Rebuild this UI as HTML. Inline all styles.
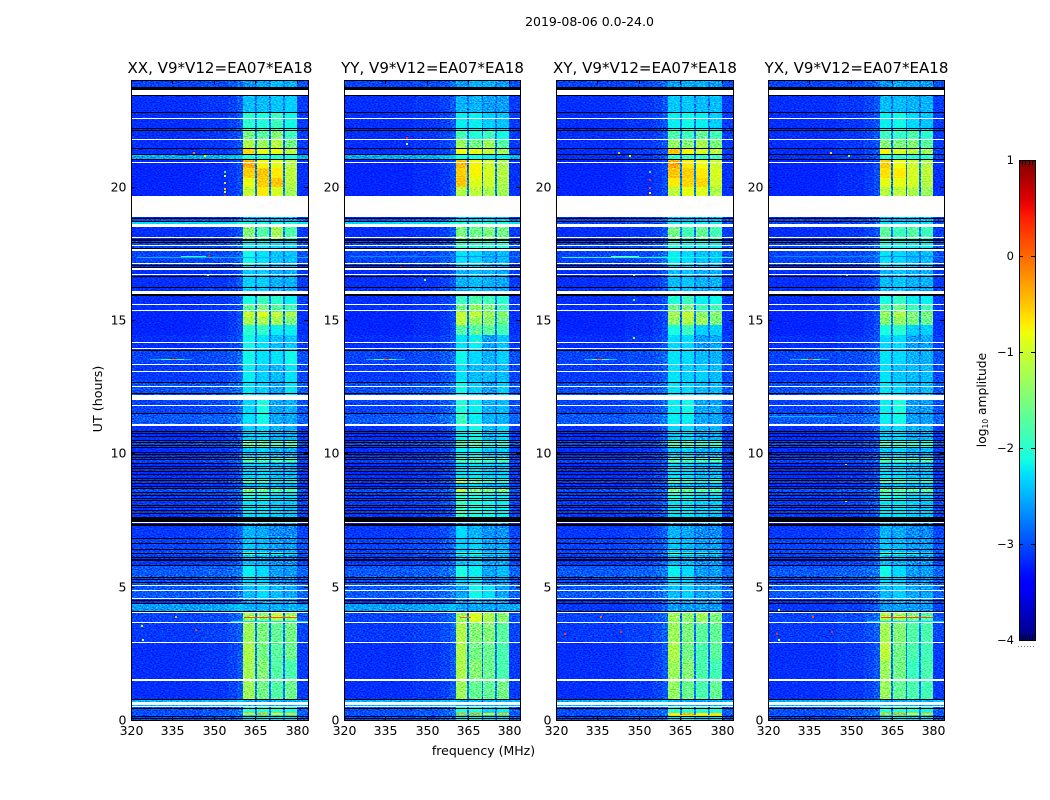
<!DOCTYPE html>
<html lang="en">
<head>
<meta charset="utf-8">
<title>2019-08-06 0.0-24.0</title>
<style>
html,body{margin:0;padding:0;background:#fff;width:1050px;height:800px;overflow:hidden}
svg{display:block}
text{font-family:"DejaVu Sans","Liberation Sans",sans-serif;fill:#000}
</style>
</head>
<body>
<svg id="figure" xmlns="http://www.w3.org/2000/svg" width="1050" height="800" viewBox="0 0 1050 800">
  <defs>
    <!-- Purely visual receiver-grain texture; it carries no chart values. -->
    <filter id="grain" x="0" y="0" width="100%" height="100%" color-interpolation-filters="sRGB">
      <feTurbulence type="fractalNoise" baseFrequency="0.55 0.85" numOctaves="1" seed="7"/>
      <feColorMatrix type="matrix" values="2.2 0 0 0 -0.6  2.2 0 0 0 -0.6  2.2 0 0 0 -0.6  0 0 0 0 1"/>
    </filter>
  </defs>
  <text x="589.5" y="26" font-size="12.5" text-anchor="middle">2019-08-06 0.0-24.0</text>
  <text x="483.5" y="755" font-size="12.5" text-anchor="middle">frequency (MHz)</text>
  <text x="102" y="399" font-size="12.7" text-anchor="middle" transform="rotate(-90 102 399)">UT (hours)</text>
  <text x="986" y="400" font-size="12.3" text-anchor="middle" transform="rotate(-90 986 400)">log<tspan font-size="7.5" dy="2">10</tspan><tspan dy="-2"> amplitude</tspan></text>
  <g id="panels"></g>
  <g id="colorbar"></g>
</svg>
<script>
/* ---------- axis data ---------- */
const panelTitles = ['XX, V9*V12=EA07*EA18','YY, V9*V12=EA07*EA18','XY, V9*V12=EA07*EA18','YX, V9*V12=EA07*EA18'];
const freqTicks = [320,335,350,365,380];
const timeTicks = [0,5,10,15,20];
const colorTicks = [-4,-3,-2,-1,0,1];

/* channel groups in MHz: -1 background, -2 gap between sub-bands, 0..3 sub-band index */
const channelEdges = [320,345,355,358.5,360.6,364.8,365.4,370,370.6,375,375.7,379.9,384];
const channelBand = [-1,-1,-1,-1,0,-2,1,-2,2,-2,3,-1];
const channelOffsets = [0,0.04,0.1,0.2,0,0,0,0,0,0,0,0.06];
const gapLevel = -2.8;

/* time row edges in UT hours, top to bottom */
const timeEdges = [24,23.7,23.44,22.8,22.12,21.75,21.45,21.22,21.05,20.7,20.33,20,19.65,18.84,18.71,18.6,18.49,18,17.63,17.06,15.94,15.6,15.3,15.11,14.81,14.44,13.87,13.35,12.71,12,11.51,11.03,10.46,10.24,9.83,9.68,9.08,8.89,8.7,8.51,8.25,7.61,7.28,6.83,6.3,6.19,5.81,5.36,5.06,4.58,4.35,4.09,3.68,2.93,2.25,1.5,0.75,0.49,0.26,0.19,0];

/* background log10 amplitude per time row */
const bgParallel = [-3.05,-3.1,-3.15,-3.15,-3.15,-3.15,-3.15,-2.55,-3.2,-3.2,-3.2,-3.2,-3.2,-3,-2.3,-2.3,-3.15,-3.05,-3.05,-3.15,-3.15,-3.15,-3.2,-3.2,-3.2,-3.15,-3.05,-3.1,-3,-3.05,-2.95,-3.15,-3.05,-3.15,-3.05,-3.15,-3.1,-3.15,-3,-3.1,-3.1,-3.3,-3.1,-3.05,-3,-3.1,-2.95,-3,-2.95,-3.15,-2.6,-3.05,-3.1,-3.15,-3.15,-3.15,-2.5,-3,-3,-3];
const bgCross = [-3.05,-3.1,-3.15,-3.15,-3.15,-3.15,-3.15,-3.15,-3.2,-3.2,-3.2,-3.2,-3.2,-3.05,-3.05,-2.6,-3.15,-3.05,-3.05,-3.15,-3.15,-3.15,-3.2,-3.2,-3.2,-3.15,-3.05,-3.1,-3,-3.05,-2.95,-3.15,-3.05,-3.15,-3.05,-3.15,-3.1,-3.15,-3,-3.1,-3.1,-3.3,-3.1,-3.05,-3,-3.1,-2.95,-3,-2.95,-3.15,-3.1,-3.05,-3.1,-3.15,-3.15,-3.15,-2.5,-3,-3,-3];

/* sub-band log10 amplitudes per time row: [band1, band2, band3, band4] */
const bandsXX = [[-2.65,-2.55,-2.45,-2.5],[-2.65,-2.55,-2.45,-2.5],[-2.45,-2.45,-2.4,-2.35],[-2,-2.05,-1.9,-2.15],[-1.55,-1.7,-1.45,-1.9],[-1.2,-1.3,-1.15,-1.55],[-0.6,-0.85,-0.8,-1.15],[-2,-2,-2,-2.05],[-0.4,-0.75,-0.85,-1.15],[-0.55,-0.5,-0.7,-1.1],[-0.85,-0.55,-0.5,-1.15],[-1.05,-0.7,-0.95,-1.25],[-2.5,-2.5,-2.5,-2.5],[-2.5,-2.5,-2.5,-2.6],[-2.05,-2.05,-2.1,-2.1],[-2.05,-2.05,-2.1,-2.1],[-1.45,-1.75,-1.25,-1.8],[-2.2,-2.2,-2.3,-2.3],[-2.15,-2.25,-2.4,-2.4],[-2.35,-2.35,-2.5,-2.5],[-2.1,-1.9,-2,-2.2],[-1.65,-1.5,-1.7,-1.85],[-1.05,-0.9,-1.1,-1.2],[-1.2,-1.2,-1.25,-1.5],[-2,-1.95,-2.2,-2.2],[-2.15,-2.25,-2.45,-2.4],[-2.15,-2.25,-2.25,-2.15],[-2.2,-2.35,-2.45,-2.25],[-2.25,-2.35,-2.55,-2.25],[-2.3,-2.1,-2.55,-2.5],[-2.25,-2.15,-2.55,-2.55],[-2.35,-2.3,-2.5,-2.5],[-1.7,-1.75,-1.9,-1.85],[-2.4,-2.35,-2.5,-2.5],[-1.75,-1.8,-1.85,-1.85],[-2.35,-2.3,-2.45,-2.45],[-1.95,-2,-2.25,-2.2],[-2.5,-2.4,-2.5,-2.5],[-1.5,-1.65,-1.75,-1.8],[-2.1,-2.15,-2.3,-2.3],[-2.25,-2.25,-2.35,-2.4],[-2.65,-2.65,-2.65,-2.65],[-2.5,-2.55,-2.7,-2.7],[-2.4,-2.45,-2.6,-2.6],[-1.85,-2.1,-2.1,-2.3],[-2.45,-2.5,-2.65,-2.65],[-2.2,-2.3,-2.6,-2.6],[-2.3,-2.35,-2.65,-2.65],[-2.45,-2.3,-2.45,-2.55],[-2.6,-2.55,-2.6,-2.6],[-2.5,-2.5,-2.5,-2.5],[-1.3,-1.45,-1.1,-1.3],[-1.3,-1.5,-1.65,-1.55],[-1.2,-1.55,-1.7,-1.6],[-1.25,-1.45,-1.75,-1.8],[-1.3,-1.55,-1.75,-1.6],[-2.5,-2.5,-2.5,-2.5],[-2,-2,-2,-2.1],[-0.6,-0.4,-0.7,-0.6],[-2.3,-2.2,-2.3,-2.3]];
const bandsYY = [[-2.6,-2.5,-2.5,-2.6],[-2.6,-2.5,-2.5,-2.6],[-2.5,-2.5,-2.6,-2.6],[-2.2,-2.2,-2.35,-2.4],[-1.85,-2.05,-1.9,-2.15],[-1.3,-1.55,-1.3,-1.75],[-0.8,-0.85,-1.05,-1.3],[-2.1,-2.1,-2.2,-2.2],[-0.45,-0.75,-1,-1.2],[-0.55,-0.75,-0.95,-1.15],[-0.5,-0.9,-1,-1.2],[-1.15,-1.1,-1.2,-1.25],[-2.5,-2.5,-2.5,-2.5],[-2.4,-2.4,-2.4,-2.4],[-2,-2,-2,-2],[-2,-2,-2,-2],[-1.5,-1.6,-1.5,-1.55],[-1.9,-1.95,-2,-2],[-2.25,-2.3,-2.5,-2.45],[-2.5,-2.45,-2.5,-2.55],[-1.9,-1.8,-1.85,-2],[-1.55,-1.35,-1.5,-1.85],[-1.05,-1.1,-1.3,-1.4],[-1.1,-1.35,-1.4,-1.6],[-1.75,-1.75,-1.7,-1.85],[-2.25,-2.2,-2.6,-2.4],[-2.15,-2.3,-2.5,-2.35],[-2.25,-2.45,-2.45,-2.45],[-2.15,-2.35,-2.6,-2.35],[-2.05,-2.2,-2.5,-2.45],[-1.9,-2.2,-2.5,-2.5],[-2.2,-2.15,-2.45,-2.3],[-1.85,-1.85,-2.1,-2.05],[-2.2,-2.2,-2.4,-2.35],[-1.8,-1.8,-1.85,-1.85],[-2.25,-2.25,-2.35,-2.35],[-1.2,-1.75,-2,-2.1],[-2.4,-2.3,-2.5,-2.5],[-1.1,-1.5,-1.5,-1.5],[-2,-2.1,-2.2,-2.2],[-1.9,-2.1,-2.15,-2.2],[-2.6,-2.6,-2.6,-2.6],[-2.3,-2.5,-2.65,-2.65],[-2.35,-2.35,-2.55,-2.55],[-2,-2.1,-2.3,-2.3],[-2.45,-2.35,-2.55,-2.55],[-2.1,-2.2,-2.55,-2.45],[-2.35,-2.25,-2.6,-2.55],[-2.55,-2.15,-2.25,-2.55],[-2.6,-2.5,-2.6,-2.6],[-2.55,-2.55,-2.55,-2.55],[-1.3,-0.95,-1.2,-1.4],[-1.2,-1.45,-1.45,-1.7],[-1.2,-1.55,-1.6,-1.8],[-1.2,-1.45,-1.6,-1.8],[-1.3,-1.65,-1.65,-1.55],[-2.5,-2.5,-2.5,-2.5],[-2.1,-2.1,-2.3,-2.2],[-0.4,-0.3,-0.6,-0.5],[-2.2,-2.2,-2.3,-2.3]];
const bandsXY = [[-2.6,-2.5,-2.5,-2.6],[-2.6,-2.5,-2.5,-2.6],[-2.4,-2.4,-2.45,-2.45],[-2.2,-2.15,-2.2,-2.35],[-1.8,-1.9,-1.65,-1.85],[-1.35,-1.45,-1.25,-1.5],[-0.5,-0.75,-0.95,-1.1],[-1.9,-1.9,-1.9,-1.9],[-0.35,-0.7,-0.8,-1],[-0.5,-0.55,-0.7,-0.95],[-0.7,-0.6,-0.6,-1],[-1.1,-0.85,-0.9,-1.2],[-2.5,-2.5,-2.5,-2.5],[-2.5,-2.5,-2.5,-2.5],[-2.2,-2.2,-2.2,-2.2],[-2.2,-2.2,-2.2,-2.2],[-1.55,-1.85,-1.65,-1.85],[-2.05,-2.15,-2.15,-2.2],[-2.2,-2.3,-2.4,-2.4],[-2.45,-2.4,-2.5,-2.5],[-2.05,-1.9,-2.2,-2.15],[-1.6,-1.5,-1.9,-1.85],[-1.25,-1.05,-1.4,-1.45],[-1.35,-1.2,-1.3,-1.5],[-2.1,-1.9,-2.35,-2.35],[-2.3,-2.3,-2.6,-2.55],[-2.25,-2.3,-2.45,-2.5],[-2.25,-2.35,-2.35,-2.45],[-2.25,-2.3,-2.45,-2.45],[-2.2,-2.15,-2.55,-2.55],[-2.2,-2.2,-2.55,-2.55],[-2.35,-2.3,-2.5,-2.5],[-1.85,-1.9,-2,-2],[-2.4,-2.35,-2.5,-2.5],[-1.75,-1.85,-1.85,-1.8],[-2.3,-2.3,-2.45,-2.45],[-1.9,-2,-2.2,-2.1],[-2.5,-2.4,-2.5,-2.5],[-1.55,-1.65,-1.75,-1.75],[-2.1,-2.15,-2.3,-2.3],[-2.25,-2.25,-2.35,-2.4],[-2.65,-2.65,-2.65,-2.65],[-2.5,-2.55,-2.7,-2.7],[-2.4,-2.45,-2.6,-2.6],[-1.95,-2.1,-2.15,-2.3],[-2.45,-2.5,-2.65,-2.65],[-2.2,-2.3,-2.6,-2.6],[-2.3,-2.35,-2.65,-2.65],[-2.45,-2.35,-2.55,-2.55],[-2.6,-2.55,-2.6,-2.6],[-2.6,-2.6,-2.6,-2.6],[-1.3,-1.4,-1.3,-1.5],[-1.3,-1.5,-1.7,-1.65],[-1.2,-1.55,-1.8,-1.7],[-1.3,-1.45,-1.8,-1.85],[-1.35,-1.6,-1.8,-1.65],[-2.5,-2.5,-2.5,-2.5],[-2,-2,-2.05,-2.1],[-0.7,-0.45,-0.8,-0.65],[-2.3,-2.2,-2.3,-2.3]];
const bandsYX = [[-2.65,-2.55,-2.55,-2.6],[-2.65,-2.55,-2.55,-2.6],[-2.45,-2.45,-2.5,-2.5],[-2.2,-2.15,-2.3,-2.4],[-1.9,-1.95,-1.8,-2],[-1.45,-1.5,-1.45,-1.7],[-0.75,-0.95,-1.15,-1.3],[-1.95,-1.95,-2,-2],[-0.55,-0.8,-1,-1.15],[-0.65,-0.7,-0.95,-1.1],[-0.85,-0.85,-0.95,-1.15],[-1.15,-1.1,-1.2,-1.3],[-2.5,-2.5,-2.5,-2.5],[-2.5,-2.5,-2.5,-2.5],[-2.25,-2.25,-2.25,-2.25],[-2.25,-2.25,-2.25,-2.25],[-1.7,-1.9,-1.75,-1.9],[-2.1,-2.15,-2.2,-2.2],[-2.25,-2.3,-2.45,-2.45],[-2.45,-2.4,-2.5,-2.5],[-2.1,-1.95,-2.2,-2.2],[-1.7,-1.55,-1.9,-1.85],[-1.3,-1.2,-1.45,-1.5],[-1.45,-1.35,-1.5,-1.6],[-2.1,-2,-2.35,-2.35],[-2.3,-2.3,-2.6,-2.55],[-2.25,-2.3,-2.5,-2.5],[-2.25,-2.4,-2.45,-2.45],[-2.25,-2.3,-2.5,-2.45],[-2.2,-2.1,-2.6,-2.6],[-2.2,-2.15,-2.6,-2.6],[-2.35,-2.3,-2.5,-2.5],[-1.9,-1.95,-2.05,-2.05],[-2.4,-2.35,-2.5,-2.5],[-1.75,-1.85,-1.85,-1.75],[-2.3,-2.3,-2.45,-2.45],[-1.85,-1.95,-2.15,-2.05],[-2.5,-2.4,-2.5,-2.5],[-1.6,-1.7,-1.75,-1.7],[-2.1,-2.15,-2.3,-2.3],[-2.25,-2.25,-2.35,-2.4],[-2.65,-2.65,-2.65,-2.65],[-2.5,-2.55,-2.7,-2.7],[-2.4,-2.45,-2.6,-2.6],[-1.95,-2.1,-2.15,-2.3],[-2.45,-2.5,-2.65,-2.65],[-2.15,-2.3,-2.6,-2.6],[-2.3,-2.35,-2.65,-2.65],[-2.45,-2.35,-2.55,-2.55],[-2.6,-2.55,-2.6,-2.6],[-2.6,-2.6,-2.6,-2.6],[-1.2,-1.3,-1.5,-1.75],[-1.25,-1.45,-1.75,-1.8],[-1.1,-1.55,-1.8,-1.85],[-1.3,-1.55,-1.9,-1.8],[-1.3,-1.65,-1.8,-1.85],[-2.5,-2.5,-2.5,-2.5],[-2.05,-2,-2.05,-2.15],[-0.5,-0.4,-0.7,-0.55],[-2.3,-2.2,-2.3,-2.3]];

/* flagged time ranges, shared by all baselines */
const blankRanges = [[23.64,23.44],[22.59,22.54],[21.79,21.74],[20.93,20.88],[19.65,18.85],[18.6,18.49],[18.12,18.07],[17.82,17.77],[17.65,17.6],[17.14,17.09],[16.94,16.89],[16.73,16.68],[16.09,15.99],[15.61,15.56],[15.38,15.33],[14.18,14.13],[13.95,13.9],[13.35,13.3],[13.09,13.04],[12.53,12.48],[12.19,12],[11.82,11.77],[11.1,11.02],[7.43,7.38],[5.07,5.02],[4.88,4.83],[4.58,4.53],[4.05,4],[3.68,3.63],[2.93,2.88],[1.52,1.46],[0.68,0.58],[0.54,0.49]];
const zeroLines = [23.42,22.79,22.21,22.12,21.46,21.22,21.05,18.84,18.71,17.94,17.69,17.06,17,16.65,16.25,13.87,12.69,12.25,11.5,10.84,10.75,10.66,10.5,10.41,10.32,10.23,10.06,9.96,9.87,9.8,9.63,9.53,9.44,9.34,9.22,9.09,9,8.88,8.78,8.69,8.56,8.45,8.34,8.25,8.06,7.97,7.88,7.75,6.83,6.64,6.41,6.27,6.12,5.81,5.37,5.29,5.19,4.5,4.37,4.1,0.78,0.44,0.16,0.06];
const zeroRanges = [[23.72,23.64],[18.04,17.98],[15.96,15.91],[7.62,7.44],[7.35,7.28],[6.04,5.96]];

/* isolated interference: [freq MHz, UT hours, log10 amplitude] */
const spikesXX = [[353.7,20.6,-2],[353.7,20.45,-0.9],[353.7,20.17,-0.6],[353.7,19.95,-0.5],[353.7,19.85,-1],[353.7,19.7,0.4],[342.5,21.3,-0.1],[346.4,21.17,-0.8],[347.5,16.7,-1],[348,17.45,0.4],[323.5,3.55,-1],[343,3.4,0.2],[336,3.9,-0.4],[324,3.05,-1]];
const spikesYY = [[342.5,21.85,0.3],[342.5,21.65,-1],[340.5,17.05,0.4],[349,16.55,-1.5],[368,14.6,-0.6],[368,14.2,-0.6]];
const spikesXY = [[353.7,20.6,-2],[353.7,20.3,0.3],[353.7,20,0.2],[353.7,19.8,-0.9],[353.7,19.7,0.5],[342.5,21.3,-0.4],[346.4,21.2,-1],[348,16.7,-1.2],[323.5,4.1,-1],[343,3.35,0.3],[336,3.9,0],[323,3.25,0.2],[348,15.8,-1.8],[348,14.35,-1.2]];
const spikesYX = [[342.5,21.3,-0.6],[349,21.2,-1.6],[348.5,16.7,-1.5],[323.5,4.15,-1],[343,3.35,0.3],[336,3.9,0.1],[323,3.25,0.3],[323.5,3.05,-0.9],[348,9.65,-0.7],[348,8.25,-0.7]];

/* narrow horizontal features: [freq start, freq end, UT, log10 amplitude] */
const linesXX = [[322,384,17.38,-2.5],[338,347,17.4,-1.9],[327,342,13.55,-2.5],[331,339,13.55,-1.9],[334.5,336.5,13.55,-0.2],[356,384,3.7,-2.3],[361,380,3.85,0.15]];
const linesYY = [[322,384,17.4,-2.7],[328,342,13.55,-2.5],[331,339,13.55,-1.9],[334.5,336.5,13.55,0],[362,366,3.88,0]];
const linesXY = [[322,384,17.38,-2.1],[340,350,17.4,-1.6],[330,342,13.55,-2.4],[333,339,13.55,-1.8],[335,336.5,13.55,0],[361,380,0.17,-0.6]];
const linesYX = [[322,384,17.4,-2.7],[328,342,13.55,-2.5],[332,339,13.55,-1.9],[334.5,336.5,13.55,0],[356,384,3.7,-2.3],[361,380,3.85,0.2],[320,345,11.4,-2.45]];

/* ---------- layout ---------- */
const panelLefts = [131,344,556,768];
const panelWidths = [177,176,177,176];
const panelTop = 80;
const panelHeight = 640;
const freqMin = 320, freqMax = 384, timeMin = 0, timeMax = 24;
const colorMin = -4, colorMax = 1;
const barLeft = 1019, barWidth = 16, barTop = 160, barHeight = 480;

const SVGNS = 'http://www.w3.org/2000/svg';
function xAxis(left, width, f){ return left + (f - freqMin) / (freqMax - freqMin) * width; }
function yAxis(t){ return panelTop + (timeMax - t) / (timeMax - timeMin) * panelHeight; }
function barAxis(v){ return barTop + (colorMax - v) / (colorMax - colorMin) * barHeight; }
function interp(t, pts){
  for (let i = 1; i < pts.length; i++) {
    if (t <= pts[i][0]) {
      const a = pts[i-1], b = pts[i];
      return a[1] + (t - a[0]) / (b[0] - a[0]) * (b[1] - a[1]);
    }
  }
  return pts[pts.length-1][1];
}
function jet(v){
  const t = Math.max(0, Math.min(1, (v - colorMin) / (colorMax - colorMin)));
  const r = interp(t, [[0,0],[0.35,0],[0.66,1],[0.89,1],[1,0.5]]);
  const g = interp(t, [[0,0],[0.125,0],[0.375,1],[0.64,1],[0.91,0],[1,0]]);
  const b = interp(t, [[0,0.5],[0.11,1],[0.34,1],[0.65,0],[1,0]]);
  return 'rgb(' + Math.round(r*255) + ',' + Math.round(g*255) + ',' + Math.round(b*255) + ')';
}
function makeRect(parent, x0, y0, x1, y1, fill){
  const el = document.createElementNS(SVGNS, 'rect');
  el.setAttribute('x', x0);
  el.setAttribute('y', y0);
  el.setAttribute('width', Math.max(1, x1 - x0));
  el.setAttribute('height', Math.max(1, y1 - y0));
  el.setAttribute('fill', fill);
  el.setAttribute('shape-rendering', 'crispEdges');
  parent.appendChild(el);
  return el;
}
function makeLine(parent, x1, y1, x2, y2){
  const el = document.createElementNS(SVGNS, 'line');
  el.setAttribute('x1', x1);
  el.setAttribute('y1', y1);
  el.setAttribute('x2', x2);
  el.setAttribute('y2', y2);
  el.setAttribute('stroke', '#000');
  el.setAttribute('stroke-width', '1');
  el.setAttribute('shape-rendering', 'crispEdges');
  parent.appendChild(el);
  return el;
}
function makeText(parent, x, y, str, size, anchor){
  const el = document.createElementNS(SVGNS, 'text');
  el.setAttribute('x', x);
  el.setAttribute('y', y);
  el.setAttribute('font-size', size);
  el.setAttribute('text-anchor', anchor);
  el.textContent = str;
  parent.appendChild(el);
  return el;
}
function formatSigned(v){ return v < 0 ? '\u2212' + Math.abs(v) : String(v); }

const panelBands = [bandsXX, bandsYY, bandsXY, bandsYX];
const panelBackgrounds = [bgParallel, bgParallel, bgCross, bgCross];
const panelSpikes = [spikesXX, spikesYY, spikesXY, spikesYX];
const panelLines = [linesXX, linesYY, linesXY, linesYX];

const panelsRoot = document.getElementById('panels');
panelTitles.forEach(function(title, p){
  const left = panelLefts[p];
  const width = panelWidths[p];
  const right = left + width;
  const g = document.createElementNS(SVGNS, 'g');
  
  
  panelsRoot.appendChild(g);

  /* heatmap cells */
  for (let r = 0; r < timeEdges.length - 1; r++) {
    const y0 = Math.round(yAxis(timeEdges[r]));
    const y1 = Math.round(yAxis(timeEdges[r+1]));
    for (let c = 0; c < channelBand.length; c++) {
      const x0 = Math.round(xAxis(left, width, channelEdges[c]));
      const x1 = Math.round(xAxis(left, width, channelEdges[c+1]));
      const kind = channelBand[c];
      let v;
      if (kind === -1) {
        v = panelBackgrounds[p][r] + channelOffsets[c];
      } else if (kind === -2) {
        v = Math.min(gapLevel, panelBands[p][r][channelBand[c-1]]);
      } else {
        v = panelBands[p][r][kind];
      }
      const cell = makeRect(g, x0, y0, x1, y1, jet(v));
      
      
    }
  }

  /* visual grain over the cells */
  const grain = document.createElementNS(SVGNS, 'rect');
  grain.setAttribute('x', left);
  grain.setAttribute('y', panelTop);
  grain.setAttribute('width', width);
  grain.setAttribute('height', panelHeight);
  grain.setAttribute('filter', 'url(#grain)');
  grain.setAttribute('style', 'mix-blend-mode:overlay');
  
  
  g.appendChild(grain);

  /* narrow horizontal features */
  panelLines[p].forEach(function(d){
    const y = Math.round(yAxis(d[2]));
    const el = makeRect(g, Math.round(xAxis(left, width, d[0])), y, Math.round(xAxis(left, width, d[1])), y + 1, jet(d[3]));
    
    
  });

  /* isolated spikes */
  panelSpikes[p].forEach(function(d){
    const x = Math.round(xAxis(left, width, d[0]));
    const y = Math.round(yAxis(d[1]));
    const el = makeRect(g, x, y, x + 2, y + 2, jet(d[2]));
    
    
  });

  /* zero-amplitude rows */
  zeroLines.forEach(function(t){
    const y = Math.round(yAxis(t));
    const el = makeRect(g, left, y, right, y + 1, '#000');
    
    
  });
  zeroRanges.forEach(function(d){
    const el = makeRect(g, left, Math.round(yAxis(d[0])), right, Math.round(yAxis(d[1])), '#000');
    
    
  });

  /* blank (flagged) rows */
  blankRanges.forEach(function(d){
    const el = makeRect(g, left, Math.round(yAxis(d[0])), right, Math.round(yAxis(d[1])), '#fff');
    
    
  });

  /* frame */
  const frame = document.createElementNS(SVGNS, 'rect');
  frame.setAttribute('x', left + 0.5);
  frame.setAttribute('y', panelTop + 0.5);
  frame.setAttribute('width', width);
  frame.setAttribute('height', panelHeight);
  frame.setAttribute('fill', 'none');
  frame.setAttribute('stroke', '#000');
  
  
  g.appendChild(frame);

  /* x ticks */
  freqTicks.forEach(function(f){
    const x = Math.round(xAxis(left, width, f)) + 0.5;
    const tickB = makeLine(g, x, panelTop + panelHeight, x, panelTop + panelHeight - 4);
    
    
    const tickT = makeLine(g, x, panelTop, x, panelTop + 4);
    
    
    const label = makeText(g, x, 735, String(f), 12.5, 'middle');
    
    
  });

  /* y ticks */
  timeTicks.forEach(function(t){
    const y = Math.round(yAxis(t)) + 0.5;
    const tickL = makeLine(g, left, y, left + 4, y);
    
    
    const tickR = makeLine(g, right, y, right - 4, y);
    
    
    const label = makeText(g, left - 4.5, y + 4, String(t), 12.5, 'end');
    
    
  });

  /* panel title */
  const heading = makeText(g, left + width / 2 + 0.5, 73, title, 15.05, 'middle');
  
  
});

/* ---------- colorbar ---------- */
const barRoot = document.getElementById('colorbar');
const gradient = document.createElementNS(SVGNS, 'linearGradient');
gradient.setAttribute('id', 'jet-gradient');
gradient.setAttribute('x1', '0');
gradient.setAttribute('y1', '1');
gradient.setAttribute('x2', '0');
gradient.setAttribute('y2', '0');
for (let i = 0; i <= 50; i++) {
  const stop = document.createElementNS(SVGNS, 'stop');
  stop.setAttribute('offset', i / 50);
  stop.setAttribute('stop-color', jet(colorMin + (colorMax - colorMin) * i / 50));
  gradient.appendChild(stop);
}
barRoot.appendChild(gradient);

const barBody = document.createElementNS(SVGNS, 'rect');
barBody.setAttribute('x', barLeft);
barBody.setAttribute('y', barTop);
barBody.setAttribute('width', barWidth);
barBody.setAttribute('height', barHeight);
barBody.setAttribute('fill', 'url(#jet-gradient)');


barRoot.appendChild(barBody);

const barFrame = document.createElementNS(SVGNS, 'rect');
barFrame.setAttribute('x', barLeft + 0.5);
barFrame.setAttribute('y', barTop + 0.5);
barFrame.setAttribute('width', barWidth);
barFrame.setAttribute('height', barHeight);
barFrame.setAttribute('fill', 'none');
barFrame.setAttribute('stroke', '#000');


barRoot.appendChild(barFrame);

colorTicks.forEach(function(v){
  const y = Math.round(barAxis(v)) + 0.5;
  const tickL = makeLine(barRoot, barLeft, y, barLeft + 4, y);
  
  
  const tickR = makeLine(barRoot, barLeft + barWidth, y, barLeft + barWidth - 4, y);
  
  
  const label = makeText(barRoot, barLeft - 5, y + 3.5, formatSigned(v), 11.5, 'end');
  
  
});

[0.2, 0.4, 0.6, 0.8].forEach(function(fr){
  const x = Math.round(barLeft + fr * barWidth) + 0.5;
  const top = makeLine(barRoot, x, barTop, x, barTop + 5);
  
  
  const bottom = makeLine(barRoot, x, barTop + barHeight, x, barTop + barHeight - 5);
  
  
});

const dots = document.createElementNS(SVGNS, 'line');
dots.setAttribute('x1', barLeft - 1);
dots.setAttribute('y1', 646.5);
dots.setAttribute('x2', barLeft + barWidth);
dots.setAttribute('y2', 646.5);
dots.setAttribute('stroke', '#777');
dots.setAttribute('stroke-width', '1');
dots.setAttribute('stroke-dasharray', '1 2');


barRoot.appendChild(dots);
</script>
</body>
</html>
